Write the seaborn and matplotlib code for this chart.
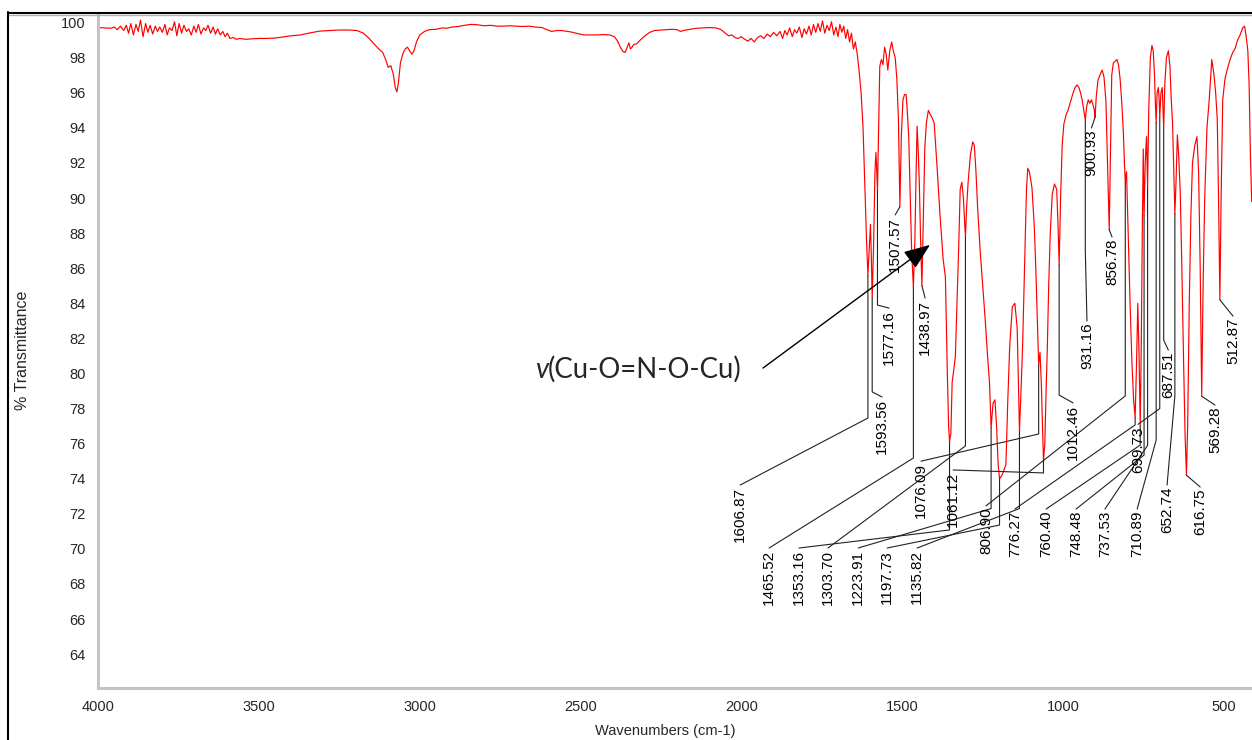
import numpy as np
import pandas as pd
import matplotlib
matplotlib.use("Agg")
import matplotlib.pyplot as plt
import seaborn as sns
from matplotlib.lines import Line2D
from matplotlib.ticker import MultipleLocator

# ---------------- spectrum data ----------------
wn_high = [4000, 3980, 3960, 3950, 3940, 3930, 3920, 3912, 3905, 3898, 3890, 3882, 3875, 3868,
           3860, 3852, 3845, 3838, 3830, 3822, 3815, 3808, 3800, 3792, 3785, 3778, 3770, 3762,
           3755, 3748, 3740, 3733, 3725, 3718, 3710, 3702, 3695, 3688, 3680, 3672, 3665, 3658,
           3650, 3642, 3635, 3628, 3620, 3612, 3605, 3598, 3590, 3580, 3570, 3560, 3540, 3520,
           3500, 3480, 3450, 3420, 3400, 3370, 3340, 3310, 3280, 3250, 3220, 3195, 3175, 3160,
           3145, 3130, 3115, 3105, 3098, 3090, 3082, 3076, 3071, 3066, 3060, 3052, 3045, 3038,
           3030, 3024, 3018, 3010, 3000, 2985, 2970, 2950, 2930, 2915, 2900, 2880, 2860, 2840,
           2820, 2800, 2780, 2760, 2740, 2720, 2700, 2680, 2660, 2640, 2620, 2605, 2590, 2575,
           2560, 2540, 2525, 2510, 2490, 2470, 2450, 2430, 2410, 2395, 2385, 2375, 2368, 2362,
           2356, 2350, 2345, 2340, 2335, 2325, 2315, 2300, 2285, 2270, 2250, 2230, 2215, 2200,
           2190, 2180, 2160, 2140, 2120, 2100, 2080, 2065, 2050, 2040, 2030, 2020, 2010, 2000,
           1990, 1980, 1970, 1960, 1950, 1940, 1930, 1920, 1910, 1900, 1890, 1880, 1872, 1865,
           1858, 1850, 1842, 1835, 1828, 1820, 1812, 1805, 1798, 1790, 1783, 1776, 1769, 1762,
           1755, 1748, 1741, 1734, 1727, 1720, 1713, 1706]
t_high = [99.72, 99.70, 99.68, 99.75, 99.60, 99.80, 99.55, 99.85, 99.40, 99.95, 99.30, 99.90, 99.50, 100.15,
          99.20, 99.95, 99.45, 99.85, 99.35, 99.80, 99.50, 99.75, 99.45, 99.90, 99.30, 99.70, 99.55, 100.05,
          99.25, 99.95, 99.40, 99.85, 99.50, 99.65, 99.30, 99.80, 99.45, 99.90, 99.35, 99.70, 99.55, 99.85,
          99.40, 99.75, 99.35, 99.65, 99.30, 99.50, 99.20, 99.40, 99.10, 99.15, 99.05, 99.10, 99.05, 99.08,
          99.10, 99.10, 99.12, 99.20, 99.25, 99.30, 99.42, 99.52, 99.55, 99.58, 99.58, 99.55, 99.40, 99.15,
          98.85, 98.55, 98.30, 97.85, 97.45, 97.55, 97.05, 96.30, 96.05, 96.60, 97.70, 98.25, 98.50, 98.60,
          98.35, 98.20, 98.40, 98.90, 99.30, 99.50, 99.60, 99.62, 99.70, 99.68, 99.75, 99.78, 99.85, 99.90,
          99.88, 99.82, 99.85, 99.80, 99.80, 99.82, 99.80, 99.78, 99.80, 99.75, 99.72, 99.60, 99.50, 99.55,
          99.55, 99.50, 99.45, 99.38, 99.30, 99.30, 99.30, 99.32, 99.30, 99.20, 98.95, 98.55, 98.35, 98.30,
          98.55, 98.85, 98.50, 98.60, 98.75, 98.80, 99.00, 99.25, 99.45, 99.55, 99.58, 99.60, 99.62, 99.60,
          99.50, 99.55, 99.62, 99.68, 99.70, 99.72, 99.70, 99.62, 99.40, 99.25, 99.30, 99.15, 99.10, 99.20,
          99.05, 98.95, 99.10, 98.90, 99.15, 99.25, 99.10, 99.35, 99.20, 99.45, 99.25, 99.50, 99.10, 99.55,
          99.30, 99.70, 99.20, 99.60, 99.40, 99.75, 99.15, 99.65, 99.35, 99.80, 99.30, 99.90, 99.45, 99.95,
          99.50, 100.10, 99.40, 99.85, 99.55, 100.05, 99.30, 99.75]

wn_finger = [1700, 1694, 1688, 1682, 1676, 1670, 1664, 1658, 1652, 1646, 1640, 1634, 1628, 1622, 1616, 1611,
             1606.87, 1603, 1599, 1596, 1593.56, 1589, 1585, 1582, 1580, 1577.16, 1574, 1570, 1565, 1560,
             1555, 1550, 1545, 1539, 1533, 1528, 1522, 1517, 1512, 1507.57, 1503, 1498, 1493, 1488, 1484,
             1480, 1476, 1471, 1465.52, 1461, 1457, 1454, 1450, 1447, 1443, 1438.97, 1435, 1430, 1425,
             1419, 1414, 1408, 1401, 1392, 1383, 1373, 1366, 1360, 1356, 1353.16, 1349, 1345, 1340, 1335,
             1330, 1325, 1320, 1315, 1310, 1306, 1303.70, 1300, 1295, 1288, 1281, 1276, 1271, 1266, 1258,
             1250, 1242, 1235, 1229, 1223.91, 1218, 1212, 1207, 1202, 1197.73, 1190, 1184, 1178, 1172,
             1166, 1158, 1150, 1143, 1139, 1135.82, 1131, 1126, 1120, 1114, 1110, 1105, 1097, 1090, 1085,
             1080, 1076.09, 1072, 1068, 1065, 1061.12, 1057, 1053, 1049, 1045, 1040, 1034, 1027, 1020,
             1016, 1012.46, 1008, 1003, 998, 990, 985, 977, 969, 963, 957, 951, 946, 941, 936, 931.16,
             927, 922, 917, 912, 907, 903, 900.93, 897, 892, 886, 879, 873, 867, 862, 856.78, 853, 849,
             844, 838, 833, 828, 823, 818, 813, 809.5, 806.90, 803, 798, 792, 786, 781, 776.27, 772, 768,
             764, 760.40, 757, 754, 751, 748.48, 745, 741, 737.53, 734, 729, 724, 720, 716, 713.5, 710.89,
             708, 704, 701.5, 699.73, 696, 692, 689.5, 687.51, 684, 679, 673, 668, 664, 660, 656, 652.74,
             649, 645, 641, 636, 631, 626, 621, 616.75, 613, 608, 603, 598, 591, 584, 579, 574, 569.28,
             565, 560, 553, 546, 538, 531, 526, 521, 517, 512.87, 509, 504, 497, 489, 481, 473, 466, 458,
             450, 442, 436, 431, 426, 422, 418, 414]
t_finger = [99.20, 99.90, 99.45, 99.80, 99.10, 99.60, 98.90, 99.40, 98.50, 98.90, 98.20, 97.20, 96.00, 94.00, 90.50, 87.50,
            85.60, 87.00, 88.50, 86.50, 84.30, 87.50, 91.50, 92.60, 91.80, 90.40, 93.50, 97.50, 97.90, 97.60,
            98.60, 98.20, 97.30, 98.40, 98.90, 98.40, 98.00, 96.80, 94.50, 89.50, 93.50, 95.60, 95.90, 95.90, 94.80,
            93.50, 90.50, 87.00, 84.90, 87.50, 91.50, 94.10, 92.50, 90.80, 87.50, 85.00, 88.50, 92.90, 94.30,
            95.00, 94.80, 94.60, 94.30, 91.80, 89.10, 86.50, 85.50, 80.00, 77.00, 76.10, 76.60, 79.50, 80.20, 81.00,
            84.00, 87.00, 90.50, 90.90, 90.00, 88.50, 87.80, 89.50, 91.00, 92.50, 93.20, 93.00, 91.50, 89.50, 87.00,
            85.00, 83.00, 81.00, 79.50, 76.90, 78.30, 78.50, 77.00, 74.80, 74.00, 74.20, 74.50, 74.80, 78.50,
            81.60, 83.80, 84.00, 82.60, 79.50, 76.70, 79.00, 81.60, 86.00, 90.50, 91.70, 91.50, 90.60, 88.50, 86.00,
            83.00, 80.50, 81.20, 79.50, 77.50, 75.00, 76.00, 79.00, 81.60, 85.00, 88.00, 90.20, 90.80, 90.50,
            88.50, 86.20, 90.00, 93.00, 94.20, 94.80, 95.00, 95.50, 96.00, 96.30, 96.45, 96.30, 96.00, 95.60, 95.00, 94.45,
            95.20, 95.60, 95.40, 95.60, 95.30, 95.00, 94.60, 95.80, 96.70, 97.00, 97.30, 96.90, 95.50, 92.00, 88.20, 92.50, 97.00,
            97.70, 97.80, 97.90, 97.60, 96.80, 95.50, 93.80, 92.00, 90.90, 91.50, 88.00, 84.00, 80.50, 78.50, 77.50, 80.50, 84.00,
            81.00, 77.00, 82.00, 88.00, 92.80, 89.00, 92.00, 93.50, 90.60, 95.00, 98.00, 98.70, 98.40, 97.00, 95.50, 94.30,
            96.00, 96.30, 95.60, 94.60, 96.00, 96.30, 95.00, 94.00, 96.50, 98.00, 98.40, 97.50, 95.60, 94.30, 91.50, 89.10,
            91.00, 93.60, 92.50, 90.30, 86.00, 81.00, 76.50, 74.20, 77.00, 84.00, 89.00, 92.00, 93.00, 93.50, 91.50, 86.00, 78.70,
            85.00, 90.00, 94.00, 95.60, 97.90, 97.00, 96.00, 94.50, 90.00, 84.20, 90.00, 95.60, 96.80, 97.40, 97.90, 98.30, 98.50, 99.00,
            99.30, 99.70, 99.80, 99.20, 98.40, 96.50, 92.50, 89.80]

# ---------------- peak annotations ----------------
peak_labels = ["1606.87", "1593.56", "1577.16", "1507.57", "1465.52", "1438.97", "1353.16", "1303.70",
               "1223.91", "1197.73", "1135.82", "1076.09", "1061.12", "1012.46", "931.16", "900.93",
               "856.78", "806.90", "776.27", "760.40", "748.48", "737.53", "710.89", "699.73", "687.51",
               "652.74", "616.75", "569.28", "512.87"]
peak_wn = [float(s) for s in peak_labels]
# layout: label centre (wavenumber), label top (%T), knee of leader (%T or None)
label_x = [2004, 1563, 1541, 1522, 1914, 1429, 1821, 1731, 1637, 1547, 1454, 1442, 1342, 969, 926, 912,
           848, 1240, 1150, 1053, 960, 870, 770, 767, 673, 677, 574, 528, 472]
label_top = [73.64, 78.66, 83.73, 89.04, 70.05, 84.30, 70.05, 70.05, 70.05, 70.05, 70.05, 75.00, 74.50,
             78.32, 82.99, 94.00, 87.78, 72.45, 72.27, 72.27, 72.27, 72.27, 72.27, 77.10, 81.33, 73.64,
             73.53, 78.20, 83.27]
knee_t = [77.46, 78.95, 83.90, None, 75.18, None, 71.08, 75.87, 72.30, 71.36, 72.30, 76.55, 74.33, 78.77,
          87.03, None, None, 78.72, 77.07, 75.92, 75.35, 75.90, 76.20, 78.00, 81.90, 78.72, None, None, None]

# ---------------- figure ----------------
sns.set_style("white")
plt.rcParams['font.family'] = ['Liberation Sans', 'DejaVu Sans']

W, H = 1252, 740
fig = plt.figure(figsize=(W / 100, H / 100), dpi=100)
L, R, T, B = 98, 1252, 13, 688
ax = fig.add_axes([L / W, 1 - B / H, (R - L) / W, (B - T) / H])

df = pd.DataFrame({"wn": wn_high + wn_finger, "T": t_high + t_finger})
sns.lineplot(data=df, x="wn", y="T", estimator=None, sort=False, color="#ff0000",
             lw=0.85, ax=ax)

ax.set_xlim(4000, 413)
ax.set_ylim(62.07, 100.55)
ax.set_xlabel("")
ax.set_ylabel("")

ax.xaxis.set_major_locator(MultipleLocator(500))
ax.xaxis.set_minor_locator(MultipleLocator(100))
ax.yaxis.set_major_locator(MultipleLocator(2))
ax.yaxis.set_minor_locator(MultipleLocator(0.25))

for s in ["top", "right"]:
    ax.spines[s].set_visible(False)
for s in ["left", "bottom"]:
    ax.spines[s].set_color("#c4c4c4")
    ax.spines[s].set_linewidth(2.2)

ax.tick_params(axis="x", which="major", direction="inout", length=7, width=1, color="black",
               labelsize=10.5, pad=5)
ax.tick_params(axis="x", which="minor", direction="inout", length=3, width=1, color="black")
ax.tick_params(axis="y", which="major", direction="out", length=6, width=1, color="black",
               labelsize=10.5, pad=3)
ax.tick_params(axis="y", which="minor", direction="inout", length=4, width=1, color="black")
ax.set_yticks(np.arange(64, 101, 2))

# peak labels and leaders
for lab, pw, lx, lt, kt in zip(peak_labels, peak_wn, label_x, label_top, knee_t):
    pt = float(np.interp(pw, wn_finger[::-1], t_finger[::-1]))
    xs, ys = [pw], [pt]
    if kt is not None:
        xs.append(pw)
        ys.append(kt)
    xs.append(lx)
    ys.append(lt)
    ax.plot(xs, ys, color="#222222", lw=0.8, clip_on=False, zorder=3)
    ax.text(lx, lt - 0.1, lab, rotation=90, ha="center", va="top", fontsize=11,
            color="black", zorder=4)

# assignment annotation
ax.annotate("", xy=(1414, 87.33), xytext=(1933, 80.31),
            arrowprops=dict(arrowstyle="-|>,head_length=0.9,head_width=0.35", color="black",
                            lw=1.0, mutation_scale=18, shrinkA=0, shrinkB=0), zorder=5)
t1 = ax.text(2642, 79.74, "v", fontsize=19.8, style="italic", family=["Lato", "DejaVu Sans"],
             ha="left", va="baseline")
ax.annotate("(Cu-O=N-O-Cu)", xy=(1, 0), xycoords=t1, fontsize=19.8,
            family=["Lato", "DejaVu Sans"], ha="left", va="bottom")

# axis titles
fig.text(22.5 / W, 1 - 350 / H, "% Transmittance", rotation=90, ha="center", va="center",
         fontsize=11.5)
fig.text(665 / W, 1 - 731 / H, "Wavenumbers (cm-1)", ha="center", va="center", fontsize=10.5)

# window frame
fig.add_artist(Line2D([8 / W, 8 / W], [0, 1 - 12 / H], transform=fig.transFigure,
                      color="black", lw=1.5))
fig.add_artist(Line2D([8 / W, 1], [1 - 12.5 / H, 1 - 12.5 / H], transform=fig.transFigure,
                      color="black", lw=1.5))
fig.add_artist(Line2D([9 / W, 1], [1 - 14.8 / H, 1 - 14.8 / H], transform=fig.transFigure,
                      color="#b0b0b0", lw=1.0))

fig.savefig("out.png", dpi=100)
